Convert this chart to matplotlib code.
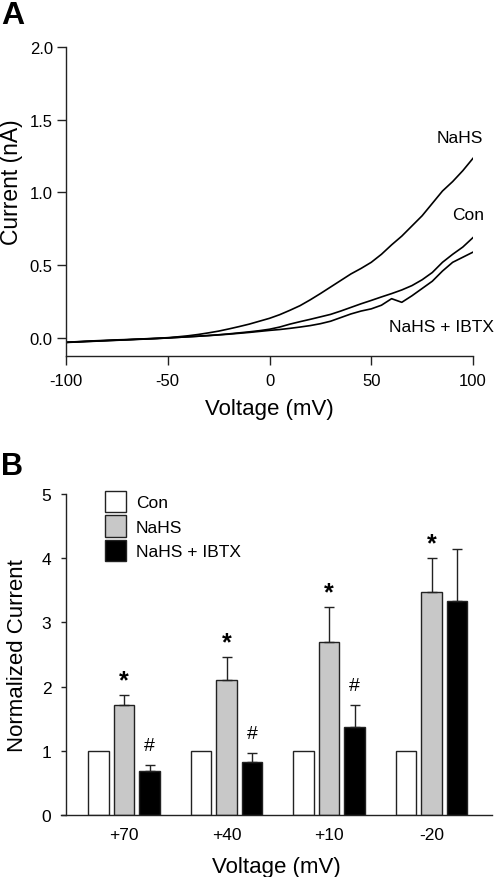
import numpy as np
import matplotlib
matplotlib.use("Agg")
import matplotlib.pyplot as plt
from matplotlib.patches import Patch

plt.rcParams["font.family"] = ["Liberation Sans", "DejaVu Sans"]
plt.rcParams["axes.unicode_minus"] = False

# ---- panel A: I-V traces (mV, nA) ----
voltage = np.arange(-100, 101, 5)
i_nahs = [-0.030, -0.026, -0.022, -0.019, -0.016, -0.013, -0.011, -0.008, -0.005, -0.002,
          0.002, 0.008, 0.015, 0.024, 0.035, 0.047, 0.062, 0.078, 0.095, 0.115,
          0.135, 0.160, 0.190, 0.222, 0.262, 0.305, 0.350, 0.395, 0.440, 0.478,
          0.520, 0.575, 0.640, 0.700, 0.770, 0.840, 0.925, 1.010, 1.075, 1.150, 1.235]
i_con = [-0.030, -0.027, -0.024, -0.021, -0.018, -0.015, -0.012, -0.009, -0.006, -0.003,
         0.000, 0.004, 0.008, 0.012, 0.017, 0.022, 0.028, 0.035, 0.042, 0.050,
         0.060, 0.075, 0.095, 0.112, 0.128, 0.145, 0.162, 0.185, 0.210, 0.235,
         0.258, 0.282, 0.305, 0.330, 0.360, 0.400, 0.450, 0.520, 0.575, 0.625, 0.690]
i_ibtx = [-0.031, -0.028, -0.025, -0.022, -0.019, -0.016, -0.013, -0.010, -0.007, -0.004,
          0.000, 0.004, 0.008, 0.012, 0.016, 0.021, 0.026, 0.032, 0.038, 0.045,
          0.052, 0.058, 0.066, 0.075, 0.085, 0.098, 0.115, 0.140, 0.165, 0.185,
          0.200, 0.225, 0.270, 0.245, 0.290, 0.340, 0.390, 0.460, 0.520, 0.555, 0.590]

# ---- panel B: normalized current ----
steps = ["+70", "+40", "+10", "-20"]
groups = ["Con", "NaHS", "NaHS + IBTX"]
con_mean = [1.0, 1.0, 1.0, 1.0]
nahs_mean = [1.71, 2.10, 2.70, 3.48]
nahs_err = [0.16, 0.36, 0.54, 0.52]
ibtx_mean = [0.68, 0.83, 1.37, 3.34]
ibtx_err = [0.10, 0.13, 0.34, 0.81]
nahs_sig = ["*", "*", "*", "*"]
ibtx_sig = ["#", "#", "#", ""]

W, H = 495, 878
fig = plt.figure(figsize=(W / 100, H / 100), dpi=100)

def box(l, t, r, b):
    return [l / W, 1 - b / H, (r - l) / W, (b - t) / H]

edge = "#222222"

# panel A
ax = fig.add_axes(box(66, 48, 473, 357))
for cur in (i_nahs, i_con, i_ibtx):
    ax.plot(voltage, cur, color="black", lw=1.2)
ax.set_xlim(-100, 100)
ax.set_ylim(-0.124, 2.0)
ax.set_xticks([-100, -50, 0, 50, 100])
ax.set_yticks([0.0, 0.5, 1.0, 1.5, 2.0])
ax.set_yticklabels(["0.0", "0.5", "1.0", "1.5", "2.0"])
for s in ("top", "right"):
    ax.spines[s].set_visible(False)
for s in ("left", "bottom"):
    ax.spines[s].set_color(edge)
    ax.spines[s].set_linewidth(1.0)
ax.tick_params(axis="both", length=6.5, width=1.0, color=edge, labelsize=12, pad=3)
ax.tick_params(axis="x", pad=6)
ax.set_xlabel("Voltage (mV)", fontsize=16, labelpad=7)
ax.set_ylabel("Current (nA)", fontsize=16.5)
ax.yaxis.set_label_coords(-0.106, 0.566)
ax.text(93.6, 1.38, "NaHS", fontsize=12.5, ha="center", va="center")
ax.text(97.5, 0.85, "Con", fontsize=12.5, ha="center", va="center")
ax.text(84.7, 0.076, "NaHS + IBTX", fontsize=12.5, ha="center", va="center")
fig.text(1 / W, 1 - 16 / H, "A", fontsize=23, fontweight="bold", va="center", ha="left")

# panel B
bx = fig.add_axes(box(61, 495, 492, 816))
x = np.arange(len(steps))
bw, off = 0.2, 0.25
bx.bar(x - off, con_mean, bw, color="white", edgecolor=edge, lw=1.0)
bx.bar(x, nahs_mean, bw, color="#c8c8c8", edgecolor=edge, lw=1.0)
bx.bar(x + off, ibtx_mean, bw, color="black", edgecolor=edge, lw=1.0)
bx.errorbar(x, nahs_mean, yerr=[np.zeros(4), nahs_err], fmt="none",
            ecolor=edge, elinewidth=1.0, capsize=3.5, capthick=1.0)
bx.errorbar(x + off, ibtx_mean, yerr=[np.zeros(4), ibtx_err], fmt="none",
            ecolor=edge, elinewidth=1.0, capsize=3.5, capthick=1.0)
for i in range(len(steps)):
    bx.text(x[i], nahs_mean[i] + nahs_err[i] + 0.04, nahs_sig[i], fontsize=18,
            fontweight="bold", ha="center", va="bottom")
    if ibtx_sig[i]:
        bx.text(x[i] + off, ibtx_mean[i] + ibtx_err[i] + 0.17, ibtx_sig[i], fontsize=14,
                ha="center", va="bottom")
bx.set_xlim(-0.615, 3.59)
bx.set_ylim(0, 5)
bx.set_xticks(x)
bx.set_xticklabels(steps)
bx.set_yticks([0, 1, 2, 3, 4, 5])
for s in ("top", "right"):
    bx.spines[s].set_visible(False)
for s in ("left", "bottom"):
    bx.spines[s].set_color(edge)
    bx.spines[s].set_linewidth(1.0)
bx.spines["left"].set_position(("axes", 5 / 431))
bx.tick_params(axis="y", length=3.6, width=1.0, color=edge, labelsize=12.5, pad=7)
bx.tick_params(axis="x", length=0, labelsize=12.5, pad=9)
bx.set_xlabel("Voltage (mV)", fontsize=16, labelpad=10)
bx.set_ylabel("Normalized Current", fontsize=16, labelpad=10)
handles = [Patch(facecolor=c, edgecolor=edge, lw=1.0) for c in ("white", "#c8c8c8", "black")]
bx.legend(handles, groups, loc="upper left", bbox_to_anchor=(0.102, 1.01), frameon=False,
          fontsize=12.5, handlelength=1.2, handleheight=1.5, labelspacing=0.2,
          handletextpad=0.57, borderpad=0, borderaxespad=0)
fig.text(1 / W, 1 - 467 / H, "B", fontsize=22, fontweight="bold", va="center", ha="left")

fig.savefig("out.png", dpi=100)
